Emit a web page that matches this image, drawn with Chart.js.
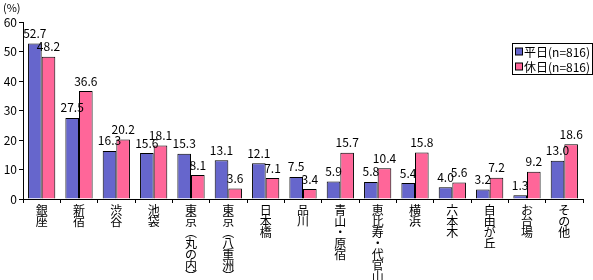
<!DOCTYPE html>
<html>
<head>
<meta charset="utf-8">
<script src="https://cdn.jsdelivr.net/npm/chart.js@4"></script>
<style>
html,body{margin:0;padding:0;background:#fff;}
#wrap{position:relative;width:593px;height:280px;}
</style>
</head>
<body>
<div id="wrap"><canvas id="c" width="593" height="280"></canvas></div>
<script>
// ── DATA ──
const categories = ['銀座','新宿','渋谷','池袋','東京（丸の内）','東京（八重洲）','日本橋','品川','青山・原宿','恵比寿・代官山','横浜','六本木','自由が丘','お台場','その他'];
const weekday = [52.7,27.5,16.3,15.6,15.3,13.1,12.1,7.5,5.9,5.8,5.4,4.0,3.2,1.3,13.0];
const holiday = [48.2,36.6,20.2,18.1,8.1,3.6,7.1,3.4,15.7,10.4,15.8,5.6,7.2,9.2,18.6];
const seriesNames = ['平日(n=816)','休日(n=816)'];
const yTicks = [0,10,20,30,40,50,60];

const BLUE = '#6666cc', PINK = '#ff6699';
const FONT = '"Noto Sans CJK JP", "Noto Sans", sans-serif';

// vertical label: one char per line, brackets in vertical form
const vLabels = categories.map(s => [...s].map(ch => ch==='（' ? '︵' : ch==='）' ? '︶' : ch));

// ── PLUGINS ──
const valueLabels = {
  id:'valueLabels',
  afterDatasetsDraw(chart){
    const ctx = chart.ctx;
    ctx.save();
    ctx.font = '12px ' + FONT;
    ctx.fillStyle = '#000';
    ctx.textAlign = 'center';
    ctx.textBaseline = 'middle';
    chart.data.datasets.forEach((ds,di)=>{
      chart.getDatasetMeta(di).data.forEach((bar,i)=>{
        ctx.fillText(ds.data[i].toFixed(1), bar.x, bar.y - 10);
      });
    });
    ctx.restore();
  }
};

const boxLegend = {
  id:'boxLegend',
  afterDraw(chart){
    const ctx = chart.ctx;
    const x = 512, y = 43, w = 80, h = 31;
    ctx.save();
    ctx.fillStyle = '#fff';
    ctx.fillRect(x,y,w,h);
    ctx.strokeStyle = '#000';
    ctx.lineWidth = 1;
    ctx.strokeRect(x+0.5,y+0.5,w,h);
    ctx.font = '12px ' + FONT;
    ctx.textBaseline = 'middle';
    [BLUE,PINK].forEach((col,i)=>{
      const cy = y + 8.5 + i*15;
      ctx.fillStyle = col;
      ctx.fillRect(x+3.5,cy-3.5,7,7);
      ctx.strokeRect(x+3.5,cy-3.5,7,7);
      ctx.fillStyle = '#000';
      ctx.fillText(seriesNames[i], x+12, cy+0.5);
    });
    ctx.font = '11px ' + FONT;
    ctx.fillText('(%)', 3, 8);
    ctx.restore();
  }
};

// ── CHART ──
new Chart(document.getElementById('c'), {
  type:'bar',
  data:{
    labels: vLabels,
    datasets:[
      {label:seriesNames[0], data:weekday, backgroundColor:BLUE, borderColor:'#000', borderWidth:1, categoryPercentage:0.73, barPercentage:1.0},
      {label:seriesNames[1], data:holiday, backgroundColor:PINK, borderColor:'#000', borderWidth:1, categoryPercentage:0.73, barPercentage:1.0}
    ]
  },
  options:{
    responsive:false,
    animation:false,
    layout:{padding:{top:22,right:10,left:0,bottom:0}},
    plugins:{legend:{display:false},tooltip:{enabled:false}},
    scales:{
      x:{
        grid:{display:true,drawOnChartArea:false,offset:true,tickLength:4,color:'#000'},
        border:{color:'#000',width:1},
        ticks:{color:'#000',maxRotation:0,minRotation:0,autoSkip:false,padding:2,font:{size:12,family:FONT,lineHeight:0.92}},
        afterFit(s){ s.height = 81; }
      },
      y:{
        min:0,max:60,
        afterBuildTicks(s){ s.ticks = yTicks.map(v=>({value:v})); },
        grid:{display:true,drawOnChartArea:false,tickLength:4,color:'#000'},
        border:{color:'#000',width:1},
        ticks:{color:'#000',padding:2,font:{size:12,family:FONT}},
        afterFit(s){ s.width = 23; }
      }
    }
  },
  plugins:[valueLabels, boxLegend]
});
</script>
</body>
</html>
